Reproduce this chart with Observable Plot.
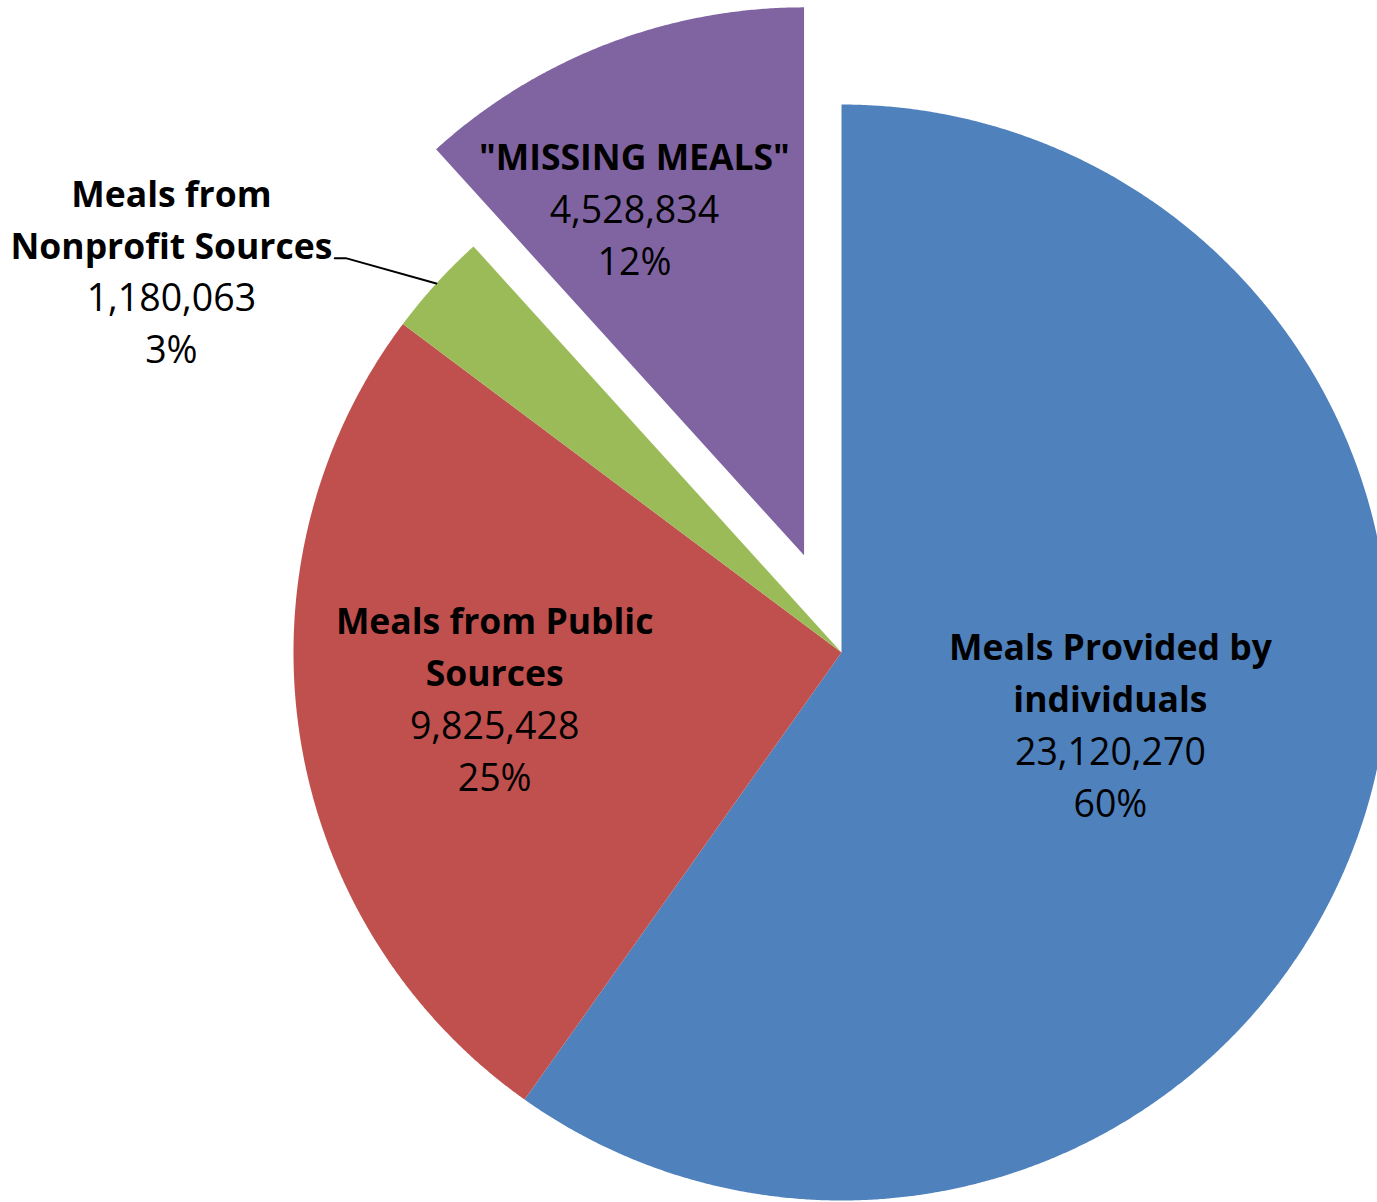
<!DOCTYPE html>
<html>
<head>
<meta charset="utf-8">
<script src="https://cdn.jsdelivr.net/npm/d3@7"></script>
<script src="https://cdn.jsdelivr.net/npm/@observablehq/plot@0.6"></script>
<style>
  html, body { margin: 0; padding: 0; background: #fff; overflow: hidden; }
  #chart svg { display: block; }
</style>
</head>
<body>
<div id="chart"></div>
<script>
// ---- Data ----
const categories = [
  ["Meals Provided by", "individuals"],
  ["Meals from Public", "Sources"],
  ["Meals from", "Nonprofit Sources"],
  ["\"MISSING MEALS\""]
];
const values = [23120270, 9825428, 1180063, 4528834];

// ---- Styles / layout ----
const colors = ["#4F81BD", "#C0504D", "#9BBB59", "#8064A2"];
const explode = [0, 0, 0, 0.19];              // fraction of radius
const labelPolar = [                          // label anchor: angle (deg, clockwise from 12 o'clock), radius fraction
  {angle: 105.4, r: 0.509},
  {angle: 262.1, r: 0.639},
  {angle: 299.5, r: 1.405},
  {angle: 333.8, r: 0.701}
];
const leaderSlice = 2;
const leaderElbow = {angle: 308.5, r: 1.156, tail: 0.02};

const W = 1377, H = 1202;
const R_PX = 548, CX_PX = 841, CY_PX = 652;
const xDomain = [-CX_PX / R_PX, (W - CX_PX) / R_PX];
const yDomain = [-(H - CY_PX) / R_PX, CY_PX / R_PX];
const LINE = 52 / R_PX;       // line spacing in data units
const FONT_FAMILY = "'Open Sans', Lato, sans-serif";
const FONT_BOLD = 35.5, FONT_REG = 37.5;

const total = d3.sum(values);
const arcs = d3.pie().sort(null).startAngle(0).endAngle(2 * Math.PI)(values);
const pol = (a, r) => [r * Math.sin(a), r * Math.cos(a)];

// slice polygons
const slices = arcs.map((d, i) => {
  const mid = (d.startAngle + d.endAngle) / 2;
  const [ox, oy] = pol(mid, explode[i]);
  const pts = [{x: ox, y: oy}];
  const steps = Math.max(2, Math.ceil((d.endAngle - d.startAngle) / (Math.PI / 720)));
  for (let k = 0; k <= steps; k++) {
    const a = d.startAngle + (d.endAngle - d.startAngle) * k / steps;
    const [x, y] = pol(a, 1);
    pts.push({x: x + ox, y: y + oy});
  }
  return {i, pts, ox, oy};
});

// label lines
const boldRows = [], regRows = [];
arcs.forEach((d, i) => {
  const mid = (d.startAngle + d.endAngle) / 2;
  const [ox, oy] = pol(mid, explode[i]);
  const lp = labelPolar[i];
  const [lx, ly] = pol(lp.angle * Math.PI / 180, lp.r);
  const lines = [
    ...categories[i].map(t => ({t, bold: true})),
    {t: d3.format(",")(values[i]), bold: false},
    {t: Math.round(values[i] / total * 100) + "%", bold: false}
  ];
  const n = lines.length;
  lines.forEach((l, k) => {
    const row = {x: lx + ox, y: ly + oy + ((n - 1) / 2 - k) * LINE, text: l.t};
    (l.bold ? boldRows : regRows).push(row);
  });
});

// leader line
const la = arcs[leaderSlice];
const lmid = (la.startAngle + la.endAngle) / 2;
const [ex, ey] = pol(lmid, 1);
const [bx, by] = pol(leaderElbow.angle * Math.PI / 180, leaderElbow.r);
const leader = [{x: bx - leaderElbow.tail, y: by}, {x: bx, y: by}, {x: ex, y: ey}];

const plot = Plot.plot({
  width: W,
  height: H,
  margin: 0,
  x: {domain: xDomain, axis: null},
  y: {domain: yDomain, axis: null},
  style: {background: "#fff"},
  marks: [
    ...slices.map(s => Plot.line(s.pts, {x: "x", y: "y", fill: colors[s.i], stroke: "none", curve: "linear-closed"})),
    Plot.line(leader, {x: "x", y: "y", stroke: "#000", strokeWidth: 2}),
    Plot.text(boldRows, {x: "x", y: "y", text: "text", fontFamily: FONT_FAMILY, fontWeight: "bold", fontSize: FONT_BOLD, fill: "#000", lineAnchor: "middle"}),
    Plot.text(regRows, {x: "x", y: "y", text: "text", fontFamily: FONT_FAMILY, fontWeight: "normal", fontSize: FONT_REG, fill: "#000", lineAnchor: "middle"})
  ]
});
document.getElementById("chart").appendChild(plot);
</script>
</body>
</html>
